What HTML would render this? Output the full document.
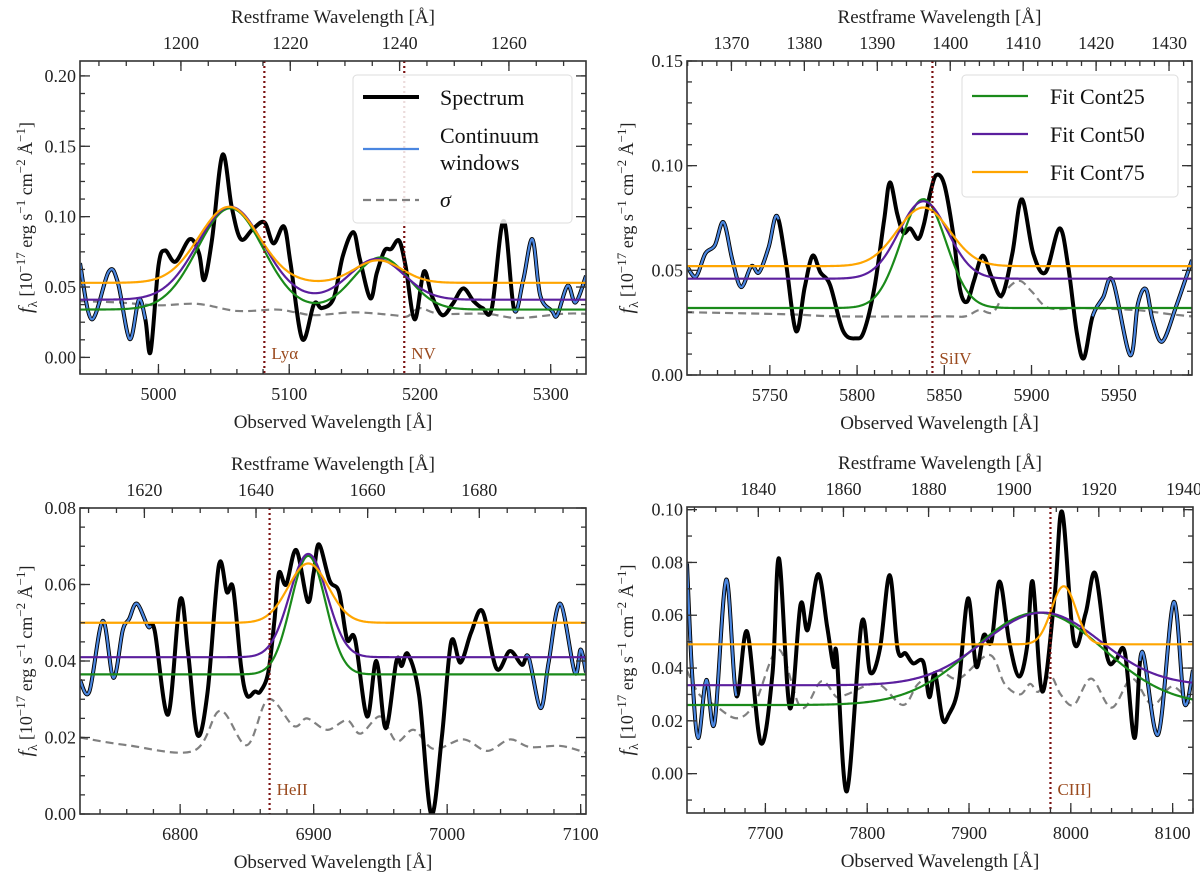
<!DOCTYPE html>
<html><head><meta charset="utf-8">
<style>
html,body{margin:0;padding:0;background:#fff;}
svg{display:block;font-family:"Liberation Serif","DejaVu Serif",serif;}
svg text{font-family:"Liberation Serif","DejaVu Serif",serif;}
</style></head>
<body>
<svg id="fig" width="1200" height="880" viewBox="0 0 1200 880" xmlns="http://www.w3.org/2000/svg"></svg>
<script>
// ---------- DATA ----------
const zPlus1 = 4.181;
// Panel 1 (Lya / NV)
const p1Wave = [4940,4949,4962,4969,4978,4985,4990,4994,5000,5005,5013,5024,5031,5035,5041,5049,5056,5063,5072,5081,5088,5096,5101,5110,5119,5125,5134,5141,5149,5154,5162,5167,5173,5178,5184,5189,5196,5203,5209,5217,5225,5233,5241,5248,5255,5264,5272,5279,5286,5292,5301,5305,5313,5319,5327];
const p1Flux = [0.067,0.027,0.061,0.053,0.013,0.041,0.027,0.004,0.065,0.076,0.068,0.084,0.074,0.055,0.084,0.144,0.107,0.084,0.091,0.096,0.081,0.093,0.067,0.013,0.038,0.035,0.042,0.072,0.089,0.070,0.042,0.060,0.076,0.077,0.083,0.065,0.027,0.061,0.044,0.030,0.038,0.049,0.040,0.035,0.035,0.097,0.034,0.055,0.084,0.044,0.033,0.030,0.051,0.039,0.058];
const p1SigWave = [4940,4970,5000,5030,5060,5090,5105,5120,5150,5180,5190,5200,5215,5250,5275,5310,5327];
const p1Sig = [0.040,0.039,0.037,0.038,0.033,0.034,0.032,0.030,0.032,0.030,0.029,0.035,0.031,0.031,0.028,0.031,0.031];
const p1Windows = [[4940,4990],[5272,5327]];
// fit params: [cont, amp1, cen1, sig1, amp2, cen2, sig2]
const p1FitGreen = [0.034,0.072,5055,25,0.037,5170,21];
const p1FitPurple = [0.041,0.066,5055,25,0.029,5167,21];
const p1FitOrange = [0.053,0.054,5054,23,0.016,5168,18];

// Panel 2 (SiIV)
const p2Wave = [5702.5,5707.6,5713,5718.5,5723.4,5728.5,5733.5,5739.4,5743.8,5749.3,5754,5759,5765,5770,5774.5,5779,5784.5,5792,5799.4,5804,5810,5815.5,5818.8,5823,5826.5,5830.5,5835,5838.3,5842,5845.4,5850,5855,5859,5863,5867,5872,5877,5883,5889,5894.4,5901,5908,5916,5921,5926,5930,5935,5941,5946.6,5956.5,5961,5965.6,5969.5,5975,5983,5992];
const p2Flux = [0.052,0.047,0.058,0.062,0.073,0.055,0.042,0.052,0.049,0.061,0.076,0.055,0.021,0.042,0.057,0.049,0.043,0.021,0.0175,0.021,0.042,0.074,0.092,0.077,0.068,0.070,0.065,0.072,0.087,0.0955,0.091,0.068,0.041,0.035,0.045,0.057,0.047,0.038,0.058,0.084,0.058,0.049,0.070,0.052,0.020,0.008,0.028,0.037,0.045,0.0095,0.034,0.041,0.026,0.016,0.033,0.055];
const p2SigWave = [5702,5760,5790,5850,5862,5870,5878,5885,5893,5900,5910,5930,5960,5980,5992];
const p2Sig = [0.030,0.029,0.028,0.028,0.028,0.031,0.030,0.040,0.045,0.040,0.032,0.032,0.031,0.029,0.028];
const p2Windows = [[5702.5,5755],[5935,5992]];
const p2FitGreen = [0.032,0.052,5838,13,0,5838,10];
const p2FitPurple = [0.046,0.037,5838,14,0,5838,10];
const p2FitOrange = [0.052,0.028,5838,15,0,5838,10];

// Panel 3 (HeII)
const p3Wave = [6725,6732,6742,6750,6757,6761.8,6767.6,6776,6780.9,6791,6800,6806,6813,6820.6,6829,6835,6839.7,6845.6,6850,6856,6860,6866,6870.6,6874,6879.4,6887,6895.6,6900,6904,6912,6919,6925,6931,6940,6947,6954,6962,6966,6970.6,6979,6988,6996,7003,7010,7018,7026.5,7037,7047,7056,7061,7070,7076,7084.7,7095.6,7100,7104];
const p3Flux = [0.035,0.032,0.0505,0.0356,0.048,0.051,0.055,0.049,0.048,0.026,0.056,0.042,0.0207,0.032,0.065,0.058,0.059,0.0387,0.031,0.032,0.032,0.037,0.0505,0.063,0.060,0.069,0.0555,0.063,0.0705,0.061,0.058,0.0457,0.0457,0.0255,0.040,0.0224,0.040,0.0387,0.0418,0.031,0.000,0.020,0.045,0.0396,0.0475,0.053,0.038,0.0426,0.039,0.041,0.0277,0.0396,0.055,0.037,0.043,0.037];
const p3SigWave = [6725,6760,6810,6830,6850,6866,6885,6895,6910,6925,6935,6950,6962,6975,6990,7012,7030,7047,7062,7085,7104];
const p3Sig = [0.020,0.018,0.0165,0.027,0.018,0.030,0.023,0.025,0.022,0.0245,0.021,0.0255,0.019,0.022,0.017,0.0195,0.0165,0.0195,0.0175,0.0178,0.016];
const p3Windows = [[6725,6778],[7059,7104]];
const p3FitGreen = [0.0365,0.031,6896,13,0,6896,10];
const p3FitPurple = [0.041,0.027,6896,14,0,6896,10];
const p3FitOrange = [0.050,0.0155,6896,15,0,6896,10];

// Panel 4 (CIII])
const p4Wave = [7623,7628,7634,7642,7650,7661.5,7671.5,7682,7695.5,7707,7713.4,7724,7734.5,7741.5,7751.8,7760.7,7767,7770,7780,7794.5,7803,7812.6,7822,7830,7837.6,7845,7855,7861,7866.5,7874,7880,7889.5,7899,7907,7914.5,7922,7930,7939.5,7949,7957,7962.6,7972,7984,7991.5,8003,8014.5,8024,8035.7,8044,8053,8062.6,8070,8085.7,8101,8111.5,8120];
const p4Flux = [0.0796,0.038,0.0135,0.0355,0.0191,0.0735,0.0295,0.0538,0.0116,0.038,0.0815,0.0248,0.064,0.0544,0.0756,0.0556,0.0405,0.045,-0.0067,0.057,0.0383,0.0475,0.0752,0.0469,0.0456,0.0418,0.0424,0.029,0.038,0.0207,0.0223,0.033,0.0664,0.0406,0.0525,0.050,0.0728,0.050,0.0368,0.048,0.0727,0.0311,0.067,0.0991,0.050,0.0607,0.0758,0.0443,0.043,0.046,0.0135,0.0462,0.0148,0.065,0.0267,0.0393];
const p4SigWave = [7623,7635,7650,7672,7690,7713,7735,7755,7770,7780,7810,7835,7850,7870,7890,7920,7935,7950,7960,7968,7980,7990,8003,8020,8040,8060,8080,8100,8120];
const p4Sig = [0.039,0.030,0.026,0.021,0.027,0.047,0.025,0.035,0.029,0.030,0.034,0.026,0.034,0.039,0.036,0.045,0.034,0.030,0.034,0.031,0.037,0.030,0.026,0.036,0.025,0.036,0.026,0.033,0.025];
const p4Windows = [[7623,7672],[8068,8120]];
const p4FitGreen = [0.026,0.035,7968,64,0,7968,10];
const p4FitPurple = [0.0335,0.0275,7972,57,0,7972,10];
const p4FitOrange = [0.049,0.022,7993,12,0,7993,10];

// ticks
const p1XTicks = [5000,5100,5200,5300], p1YTicks = [0.00,0.05,0.10,0.15,0.20], p1TopTicks = [1200,1220,1240,1260];
const p2XTicks = [5750,5800,5850,5900,5950], p2YTicks = [0.00,0.05,0.10,0.15], p2TopTicks = [1370,1380,1390,1400,1410,1420,1430];
const p3XTicks = [6800,6900,7000,7100], p3YTicks = [0.00,0.02,0.04,0.06,0.08], p3TopTicks = [1620,1640,1660,1680];
const p4XTicks = [7700,7800,7900,8000,8100], p4YTicks = [0.00,0.02,0.04,0.06,0.08,0.10], p4TopTicks = [1840,1860,1880,1900,1920,1940];

// emission line markers
const p1Lines = [5081,5188], p1LineNames = ["Lyα","NV"];
const p2Lines = [5843.2], p2LineNames = ["SiIV"];
const p3Lines = [6867], p3LineNames = ["HeII"];
const p4Lines = [7980], p4LineNames = ["CIII]"];

// ---------- LAYOUT ----------
const panels = [
 {id:'lya', L:80,R:586,T:61,B:374, xmin:4940,xmax:5327, ymin:-0.0118,ymax:0.2106, wave:p1Wave,flux:p1Flux,sw:p1SigWave,sv:p1Sig,win:p1Windows,fits:[p1FitGreen,p1FitPurple,p1FitOrange],xt:p1XTicks,yt:p1YTicks,tt:p1TopTicks,xm:20,ym:0.0125,tm:5,yd:2,lines:p1Lines,lnames:p1LineNames,labY:359,ylx:32},
 {id:'siiv', L:687,R:1192,T:61,B:375, xmin:5702.5,xmax:5992, ymin:0,ymax:0.15, wave:p2Wave,flux:p2Flux,sw:p2SigWave,sv:p2Sig,win:p2Windows,fits:[p2FitGreen,p2FitPurple,p2FitOrange],xt:p2XTicks,yt:p2YTicks,tt:p2TopTicks,xm:10,ym:0.01,tm:2,yd:2,lines:p2Lines,lnames:p2LineNames,labY:364,ylx:633},
 {id:'heii', L:80,R:586,T:508,B:814, xmin:6725,xmax:7104, ymin:0,ymax:0.08, wave:p3Wave,flux:p3Flux,sw:p3SigWave,sv:p3Sig,win:p3Windows,fits:[p3FitGreen,p3FitPurple,p3FitOrange],xt:p3XTicks,yt:p3YTicks,tt:p3TopTicks,xm:20,ym:0.005,tm:5,yd:2,lines:p3Lines,lnames:p3LineNames,labY:795,ylx:32},
 {id:'ciii', L:687,R:1193,T:507,B:813, xmin:7623,xmax:8120, ymin:-0.0149,ymax:0.101, wave:p4Wave,flux:p4Flux,sw:p4SigWave,sv:p4Sig,win:p4Windows,fits:[p4FitGreen,p4FitPurple,p4FitOrange],xt:p4XTicks,yt:p4YTicks,tt:p4TopTicks,xm:20,ym:0.01,tm:5,yd:2,lines:p4Lines,lnames:p4LineNames,labY:795,ylx:633}
];
const fitColors = ['#1a8a1a','#5b1f9e','#ffa500'];
const fitNames = ['fit-cont25','fit-cont50','fit-cont75'];
const NS='http://www.w3.org/2000/svg';
const svg=document.getElementById('fig');
function mk(tag,attrs,parent){const e=document.createElementNS(NS,tag);for(const k in attrs)e.setAttribute(k,attrs[k]);(parent||svg).appendChild(e);return e;}

function smoothPath(pts){
  if(pts.length<2)return '';
  let d='M'+pts[0][0].toFixed(2)+','+pts[0][1].toFixed(2);
  for(let i=0;i<pts.length-1;i++){
    const p0=pts[i-1]||pts[i],p1=pts[i],p2=pts[i+1],p3=pts[i+2]||p2;
    const c1=[p1[0]+(p2[0]-p0[0])/6,p1[1]+(p2[1]-p0[1])/6];
    const c2=[p2[0]-(p3[0]-p1[0])/6,p2[1]-(p3[1]-p1[1])/6];
    d+='C'+c1[0].toFixed(2)+','+c1[1].toFixed(2)+' '+c2[0].toFixed(2)+','+c2[1].toFixed(2)+' '+p2[0].toFixed(2)+','+p2[1].toFixed(2);
  }
  return d;
}
function catmullSample(xs,ys,a,b){
  const out=[];
  for(let i=0;i<xs.length-1;i++){
    const x0=xs[i-1]!==undefined?xs[i-1]:xs[i], y0=ys[i-1]!==undefined?ys[i-1]:ys[i];
    const x3=xs[i+2]!==undefined?xs[i+2]:xs[i+1], y3=ys[i+2]!==undefined?ys[i+2]:ys[i+1];
    const P=[[x0,y0],[xs[i],ys[i]],[xs[i+1],ys[i+1]],[x3,y3]];
    for(let s=0;s<=20;s++){
      const t=s/20;
      const c1=[P[1][0]+(P[2][0]-P[0][0])/6,P[1][1]+(P[2][1]-P[0][1])/6];
      const c2=[P[2][0]-(P[3][0]-P[1][0])/6,P[2][1]-(P[3][1]-P[1][1])/6];
      const mt=1-t;
      const x=mt*mt*mt*P[1][0]+3*mt*mt*t*c1[0]+3*mt*t*t*c2[0]+t*t*t*P[2][0];
      const y=mt*mt*mt*P[1][1]+3*mt*mt*t*c1[1]+3*mt*t*t*c2[1]+t*t*t*P[2][1];
      if(x>=a&&x<=b)out.push([x,y]);
    }
  }
  return out;
}

panels.forEach((p,pi)=>{
  const sx=v=>p.L+(v-p.xmin)/(p.xmax-p.xmin)*(p.R-p.L);
  const sy=v=>p.B-(v-p.ymin)/(p.ymax-p.ymin)*(p.B-p.T);
  const g=mk('g',{});
  
  
  const cid='clip'+pi;
  const cp=mk('clipPath',{id:cid},g); mk('rect',{x:p.L,y:p.T,width:p.R-p.L,height:p.B-p.T},cp);
  const plot=mk('g',{'clip-path':'url(#'+cid+')'},g);
  const sig=mk('path',{d:smoothPath(p.sw.map((w,i)=>[sx(w),sy(p.sv[i])])),fill:'none',stroke:'#808080','stroke-width':2.2,'stroke-dasharray':'8,5'},plot);
  
  
  const spec=mk('path',{d:smoothPath(p.wave.map((w,i)=>[sx(w),sy(p.flux[i])])),fill:'none',stroke:'#000','stroke-width':4,'stroke-linejoin':'round'},plot);
  
  
  p.win.forEach(w=>{
    const pts=catmullSample(p.wave,p.flux,w[0],w[1]).map(q=>[sx(q[0]),sy(q[1])]);
    const d='M'+pts.map(q=>q[0].toFixed(2)+','+q[1].toFixed(2)).join('L');
    const cw=mk('path',{d:d,fill:'none',stroke:'#4a86e0','stroke-width':2.2,'stroke-linejoin':'round'},plot);
    
    
  });
  p.fits.forEach((f,fi)=>{
    const pts=[];
    for(let i=0;i<=400;i++){
      const w=p.xmin+(p.xmax-p.xmin)*i/400;
      const v=f[0]+f[1]*Math.exp(-Math.pow(w-f[2],2)/(2*f[3]*f[3]))+f[4]*Math.exp(-Math.pow(w-f[5],2)/(2*f[6]*f[6]));
      pts.push(sx(w).toFixed(2)+','+sy(v).toFixed(2));
    }
    const fl=mk('path',{d:'M'+pts.join('L'),fill:'none',stroke:fitColors[fi],'stroke-width':2.2},plot);
    
    
  });
  p.lines.forEach((lw,li)=>{
    const vl=mk('line',{x1:sx(lw),x2:sx(lw),y1:p.T,y2:p.B,stroke:'#7a1010','stroke-width':2.2,'stroke-dasharray':'2,3'},g);
    
    
    const lt=mk('text',{x:sx(lw)+7,y:p.labY,'font-size':17,fill:'#9a4a1e'},g);
    lt.textContent=p.lnames[li];
    
    
  });
  const fr=mk('rect',{x:p.L,y:p.T,width:p.R-p.L,height:p.B-p.T,fill:'none',stroke:'#333','stroke-width':1.6},g);
  
  
  const tk={stroke:'#333','stroke-width':1.3};
  for(let w=Math.ceil(p.xmin/p.xm)*p.xm; w<=p.xmax; w+=p.xm){
    const x=sx(w); mk('line',Object.assign({x1:x,x2:x,y1:p.B,y2:p.B-5},tk),g);
  }
  p.xt.forEach(w=>{
    const x=sx(w); mk('line',Object.assign({x1:x,x2:x,y1:p.B,y2:p.B-10},tk),g);
    const t=mk('text',{x:x,y:p.B+26,'font-size':18,'text-anchor':'middle',fill:'#222'},g);
    t.textContent=String(w);
    
    
  });
  const rmin=p.xmin/zPlus1, rmax=p.xmax/zPlus1;
  for(let r=Math.ceil(rmin/p.tm)*p.tm; r<=rmax; r+=p.tm){
    const x=sx(r*zPlus1); mk('line',Object.assign({x1:x,x2:x,y1:p.T,y2:p.T+5},tk),g);
  }
  p.tt.forEach(r=>{
    const x=sx(r*zPlus1); mk('line',Object.assign({x1:x,x2:x,y1:p.T,y2:p.T+10},tk),g);
    const t=mk('text',{x:x,y:p.T-12,'font-size':18,'text-anchor':'middle',fill:'#222'},g);
    t.textContent=String(r);
    
    
  });
  for(let v=Math.ceil(p.ymin/p.ym-1e-6)*p.ym; v<=p.ymax+1e-9; v+=p.ym){
    const y=sy(v); mk('line',Object.assign({x1:p.L,x2:p.L+5,y1:y,y2:y},tk),g); mk('line',Object.assign({x1:p.R,x2:p.R-5,y1:y,y2:y},tk),g);
  }
  p.yt.forEach(v=>{
    const y=sy(v); mk('line',Object.assign({x1:p.L,x2:p.L+10,y1:y,y2:y},tk),g); mk('line',Object.assign({x1:p.R,x2:p.R-10,y1:y,y2:y},tk),g);
    const t=mk('text',{x:p.L-4,y:y+6,'font-size':18,'text-anchor':'end',fill:'#222'},g);
    t.textContent=v.toFixed(p.yd);
    
    
  });
  const cx=(p.L+p.R)/2;
  const tt=mk('text',{x:cx,y:p.T-38,'font-size':19,'text-anchor':'middle',fill:'#222'},g);
  tt.textContent='Restframe Wavelength [Å]';
  
  
  const bt=mk('text',{x:cx,y:p.B+54,'font-size':19,'text-anchor':'middle',fill:'#222'},g);
  bt.textContent='Observed Wavelength [Å]';
  
  
  const cy=(p.T+p.B)/2;
  const yl=mk('text',{x:0,y:0,'font-size':18,'text-anchor':'middle',fill:'#222',transform:'translate('+p.ylx+','+cy+') rotate(-90)'},g);
  yl.innerHTML='<tspan font-style="italic" font-size="20">f</tspan><tspan font-size="13" dy="5">λ</tspan><tspan dy="-5"> [10</tspan><tspan font-size="13" dy="-7">−17</tspan><tspan dy="7"> erg s</tspan><tspan font-size="13" dy="-7">−1</tspan><tspan dy="7"> cm</tspan><tspan font-size="13" dy="-7">−2</tspan><tspan dy="7"> Å</tspan><tspan font-size="13" dy="-7">−1</tspan><tspan dy="7">]</tspan>';
  
  
});

(function(){
  const lg=mk('g',{});
  
  
  mk('rect',{x:353,y:75,width:219,height:148,rx:4,fill:'#fff','fill-opacity':0.85,stroke:'#ddd','stroke-width':1},lg);
  mk('line',{x1:363,x2:419,y1:97,y2:97,stroke:'#000','stroke-width':4},lg);
  mk('line',{x1:363,x2:419,y1:149,y2:149,stroke:'#4a86e0','stroke-width':2.2},lg);
  mk('line',{x1:363,x2:419,y1:200,y2:200,stroke:'#808080','stroke-width':2.2,'stroke-dasharray':'8,5'},lg);
  const items=[['Spectrum',105],['Continuum',143],['windows',170]];
  items.forEach(it=>{const t=mk('text',{x:440,y:it[1],'font-size':22,fill:'#111'},lg);t.textContent=it[0];
    
    });
  const s=mk('text',{x:440,y:207,'font-size':22,'font-style':'italic',fill:'#111'},lg);s.textContent='σ';
  
  

  const lg2=mk('g',{});
  
  
  mk('rect',{x:962,y:75,width:216,height:122,rx:4,fill:'#fff','fill-opacity':0.85,stroke:'#ddd','stroke-width':1},lg2);
  ['Fit Cont25','Fit Cont50','Fit Cont75'].forEach((n,i)=>{
    const y=96+i*38;
    mk('line',{x1:972,x2:1028,y1:y,y2:y,stroke:fitColors[i],'stroke-width':2.2},lg2);
    const t=mk('text',{x:1050,y:y+8,'font-size':22,fill:'#111'},lg2);t.textContent=n;
    
    
  });
})();
</script>
</body></html>
